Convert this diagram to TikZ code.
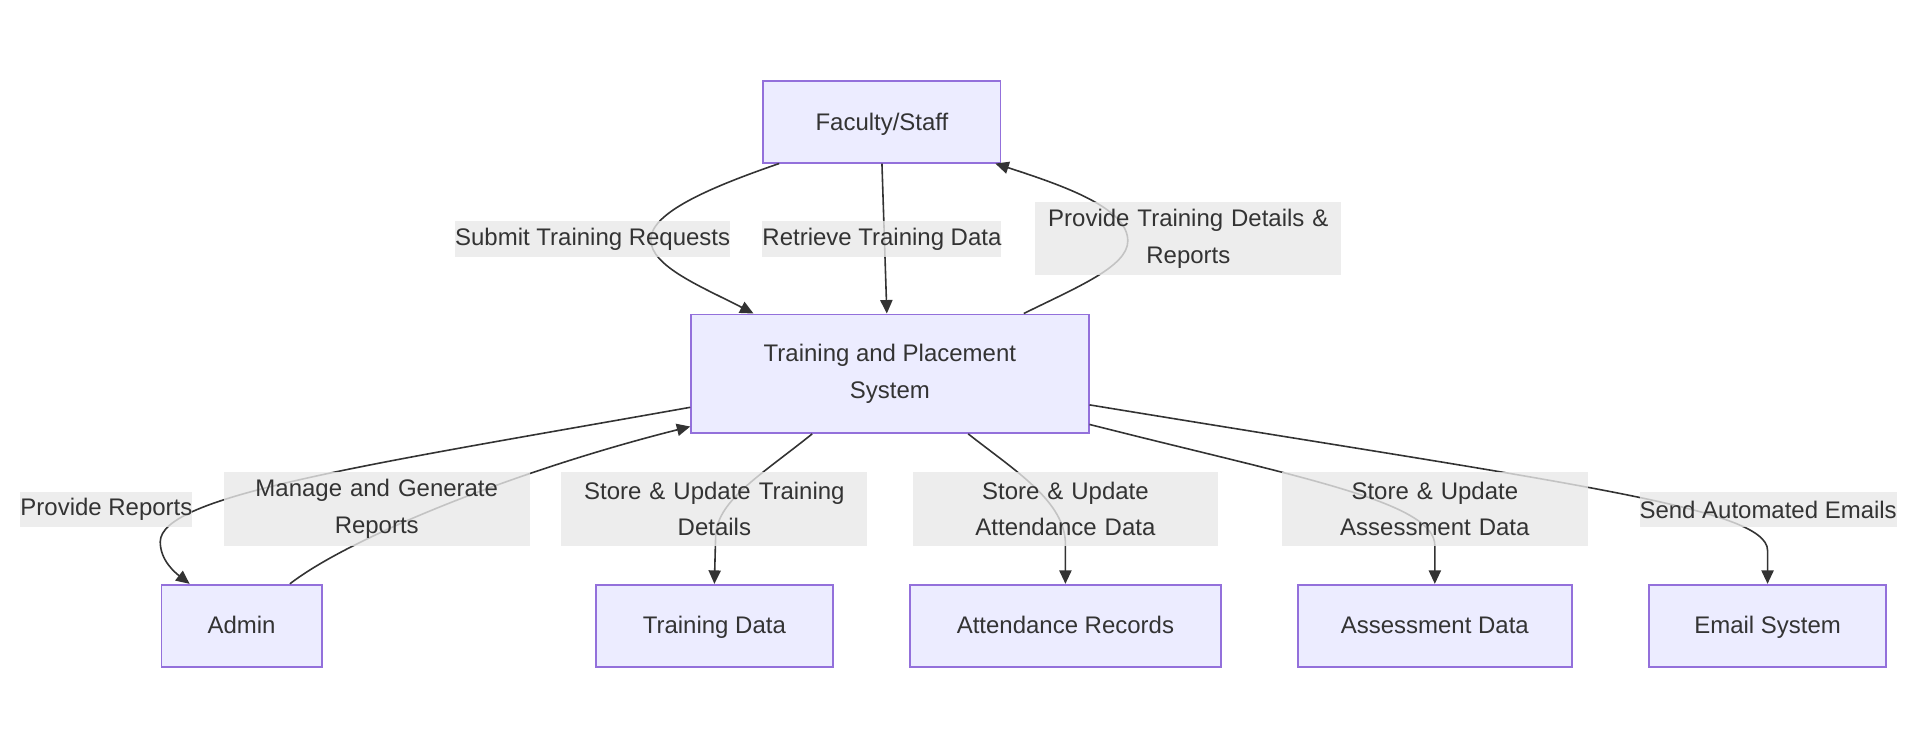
\documentclass[tikz,border=0pt]{standalone}
\usepackage{fontspec}
\setmainfont{Liberation Sans}
\usetikzlibrary{calc}
\usetikzlibrary{positioning,shapes,arrows,arrows.meta}
\definecolor{boxfill}{HTML}{ECECFF}
\definecolor{boxline}{HTML}{9370DB}
\definecolor{labelfill}{HTML}{E8E8E8}
\definecolor{linegray}{HTML}{333333}
\tikzstyle{entity} = [rectangle, align=center, draw=boxline, fill=boxfill, line width=0.7pt, text=linegray, minimum height=33.5pt]
\tikzstyle{entityline} = [entity, text height=8pt, text depth=1.2pt]
\tikzstyle{flowlabel} = [rectangle, align=center, fill=labelfill, fill opacity=0.8, text opacity=1, text=linegray, inner sep=0pt, minimum height=14.5pt]
\tikzstyle{widelabel} = [flowlabel, text width=125pt, minimum height=30pt]
\tikzstyle{arrow} = [-{Triangle[length=5.5pt,width=5pt]}, draw=linegray, line width=0.65pt]

\begin{document}
\begin{tikzpicture}[x=0.5pt, y=-0.5pt, font=\fontsize{9.8}{15}\selectfont]
		\useasboundingbox (0,0) rectangle (1568,597);
		
		\node (faculty) [entityline, minimum width=97pt] at (721,99.5) {Faculty/Staff};
		\node (tps) [entity, minimum width=162.5pt, minimum height=48.5pt] at (727.5,305.5) {Training and Placement\\System};
		\node (admin) [entityline, minimum width=65.5pt] at (197.5,511.5) {Admin};
		\node (training-data) [entityline, minimum width=97pt] at (584,511.5) {Training Data};
		\node (attendance) [entityline, minimum width=127pt] at (871,511.5) {Attendance Records};
		\node (assessment) [entityline, minimum width=112pt] at (1173,511.5) {Assessment Data};
		\node (email) [entityline, minimum width=97pt] at (1445,511.5) {Email System};
		
		\draw [arrow] ($(faculty.south)+(-84,0)$) .. controls (575,155) and (532,175) .. (532,196) .. controls (532,218) and (575,235) .. ($(tps.north)+(-111.5,0)$);
		\draw [arrow] (faculty.south) -- ($(tps.north)+(-2.5,0)$);
		\draw [arrow] ($(tps.north)+(109.5,0)$) .. controls (880,235) and (922,218) .. (922,197) .. controls (922,170) and (870,152) .. ($(faculty.south east)+(-5,0)$);
		\draw [arrow] ($(tps.west)+(0,27.5)$) .. controls (300,380) and (131,405) .. (131,443) .. controls (131,458) and (143,468) .. ($(admin.north)+(-42.5,0)$);
		\draw [arrow] ($(admin.north)+(39.5,0)$) .. controls (285,440) and (420,385) .. ($(tps.south west)+(0,-6)$);
		\draw [arrow] ($(tps.south)+(-63.5,0)$) .. controls (620,390) and (585,410) .. (585,440) -- (training-data.north);
		\draw [arrow] ($(tps.south)+(64,0)$) .. controls (830,385) and (871,410) .. (871,445) -- (attendance.north);
		\draw [arrow] ($(tps.east)+(0,41.5)$) .. controls (1060,390) and (1173,410) .. (1173,446) -- (assessment.north);
		\draw [arrow] ($(tps.east)+(0,25.5)$) .. controls (1280,395) and (1445,415) .. (1445,450) -- (email.north);
		
		\node (submit-label) [flowlabel] at (484.5,195.5) {Submit Training Requests};
		\node (retrieve-label) [flowlabel] at (721,195.5) {Retrieve Training Data};
		\node (details-label) [widelabel] at (971.5,195) {Provide Training Details \&\\Reports};
		\node (reports-label) [flowlabel] at (87,416.5) {Provide Reports};
		\node (manage-label) [widelabel] at (308,416) {Manage and Generate\\Reports};
		\node (store-training-label) [widelabel] at (584,416) {Store \& Update Training\\Details};
		\node (store-attendance-label) [widelabel] at (871,416) {Store \& Update\\Attendance Data};
		\node (store-assessment-label) [widelabel] at (1173,416) {Store \& Update\\Assessment Data};
		\node (email-label) [flowlabel] at (1445.5,416.5) {Send Automated Emails};
		
	\end{tikzpicture}
\end{document}
